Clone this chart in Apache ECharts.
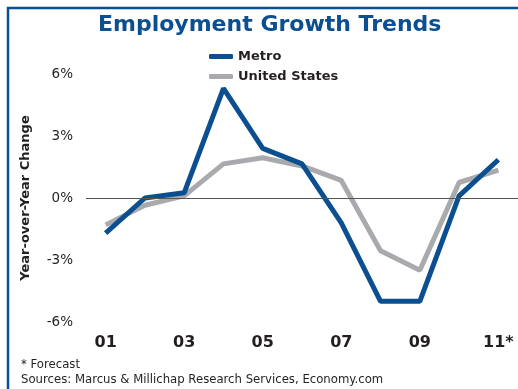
<!DOCTYPE html>
<html>
<head>
<meta charset="utf-8">
<script src="https://cdn.jsdelivr.net/npm/echarts@6/dist/echarts.min.js"></script>
<style>
  html, body { margin: 0; padding: 0; background: #fff; }
  #chart { width: 518px; height: 389px; }
</style>
</head>
<body>
<div id="chart"></div>
<script>
// year labels (only every other one is shown)
var years = ['01', '02', '03', '04', '05', '06', '07', '08', '09', '10', '11*'];
// year-over-year employment change, %
var metro = [-1.7, 0.0, 0.25, 5.3, 2.4, 1.65, -1.2, -5.0, -5.0, 0.1, 1.85];
var unitedStates = [-1.3, -0.35, 0.1, 1.65, 1.95, 1.55, 0.85, -2.55, -3.5, 0.75, 1.35];

var blue = '#0b4f91';
var grey = '#a8aaad';
var font = 'DejaVu Sans';

var chart = echarts.init(document.getElementById('chart'));
chart.setOption({
  animation: false,
  title: {
    text: 'Employment Growth Trends',
    left: 93,
    top: 9,
    textStyle: { fontFamily: font, fontSize: 22, fontWeight: 'bold', color: blue }
  },
  legend: {
    orient: 'vertical',
    left: 204,
    top: 45,
    itemWidth: 24,
    itemHeight: 5,
    itemGap: 7,
    itemTextGap: 6,
    icon: 'roundRect',
    textStyle: { fontFamily: font, fontSize: 13, fontWeight: 'bold', color: '#231f20' },
    data: ['Metro', 'United States']
  },
  grid: { left: 86, right: 0, top: 74, bottom: 67 },
  xAxis: {
    type: 'category',
    data: years,
    boundaryGap: true,
    axisLine: { show: false },
    axisTick: { show: false },
    axisLabel: {
      interval: 1,
      margin: 13,
      fontFamily: font,
      fontSize: 16,
      fontWeight: 'bold',
      color: '#231f20'
    }
  },
  yAxis: {
    type: 'value',
    min: -6,
    max: 6,
    interval: 3,
    name: 'Year-over-Year Change',
    nameLocation: 'middle',
    nameGap: 54,
    nameTextStyle: { fontFamily: font, fontSize: 13, fontWeight: 'bold', color: '#231f20' },
    axisLine: { show: false },
    axisTick: { show: false },
    splitLine: { show: false },
    axisLabel: {
      margin: 13,
      fontFamily: font,
      fontSize: 13.5,
      color: '#231f20',
      formatter: '{value}%'
    }
  },
  series: [
    {
      name: 'United States',
      type: 'line',
      data: unitedStates,
      symbol: 'none',
      lineStyle: { color: grey, width: 5 },
      itemStyle: { color: grey },
      markLine: {
        silent: true,
        symbol: 'none',
        label: { show: false },
        lineStyle: { color: '#555', width: 1, type: 'solid' },
        data: [{ yAxis: 0 }]
      },
      z: 2
    },
    {
      name: 'Metro',
      type: 'line',
      data: metro,
      symbol: 'none',
      lineStyle: { color: blue, width: 5 },
      itemStyle: { color: blue },
      z: 3
    }
  ],
  graphic: [
    {
      type: 'polyline',
      silent: true,
      shape: { points: [[8, 389], [8, 8], [518, 8]] },
      style: { stroke: blue, lineWidth: 2.5, fill: null }
    },
    {
      type: 'text',
      left: 21,
      top: 357,
      style: {
        text: '* Forecast\nSources: Marcus & Millichap Research Services, Economy.com',
        fontFamily: font,
        fontSize: 11.7,
        lineHeight: 15,
        fill: '#231f20'
      }
    }
  ]
});
</script>
</body>
</html>
